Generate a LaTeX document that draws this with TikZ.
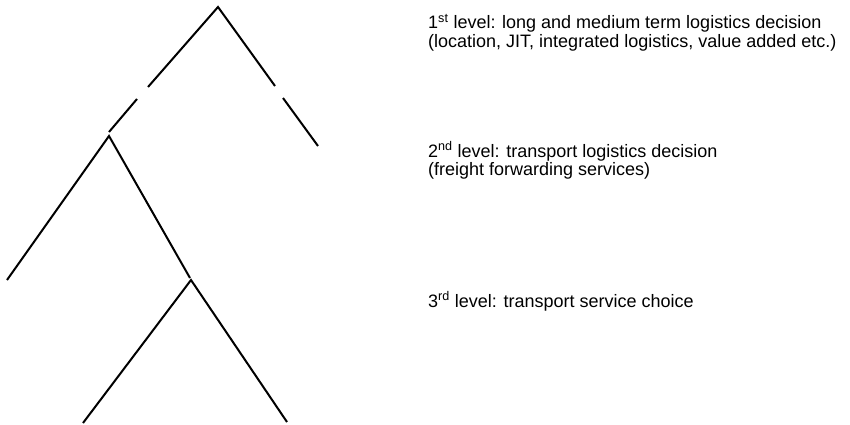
\documentclass[tikz,border=0pt]{standalone}
\usepackage{fontspec}
\setmainfont{Liberation Sans}
\begin{document}
\begin{tikzpicture}[x=1pt,y=-1pt,
  branch/.style={line width=2pt, line cap=butt, line join=miter},
  lvl/.style={anchor=base west, inner sep=0pt, font=\fontsize{18}{20}\selectfont}]
\useasboundingbox (0,0) rectangle (850,425);
% tree points
\coordinate (A) at (218,7);
\coordinate (Lg1) at (148,87);
\coordinate (Lg2) at (137,99);
\coordinate (Lend) at (109,132);
\coordinate (B) at (109,136);
\coordinate (Rg1) at (275,86);
\coordinate (Rg2) at (283,98);
\coordinate (Rend) at (318,146);
\coordinate (BL) at (7,280);
\coordinate (C) at (190,278);
\coordinate (C2) at (191,280);
\coordinate (CL) at (83,423);
\coordinate (CR) at (287,422);
% branches
\draw[branch] (Lg1) -- (A) -- (Rg1);
\draw[branch] (Lg2) -- (Lend);
\draw[branch] (Rg2) -- (Rend);
\draw[branch] (BL) -- (B) -- (C);
\draw[branch] (CL) -- (C2) -- (CR);
% labels
\node[lvl] (t1a) at (428,29) {1\textsuperscript{st} level: long and medium term logistics decision};
\node[lvl] (t1b) at (428,48) {(location, JIT, integrated logistics, value added etc.)};
\node[lvl] (t2a) at (428,157) {2\textsuperscript{nd} level: transport logistics decision};
\node[lvl] (t2b) at (428,175) {(freight forwarding services)};
\node[lvl] (t3) at (428,307) {3\textsuperscript{rd} level: transport service choice};
\end{tikzpicture}
\end{document}
